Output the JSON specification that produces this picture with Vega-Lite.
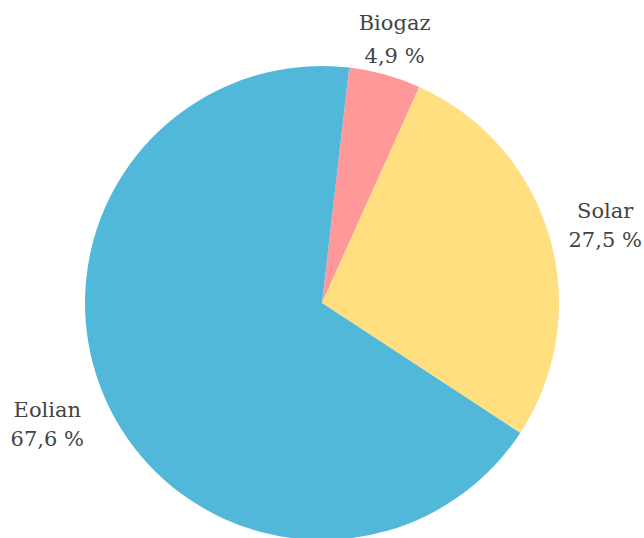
{
  "$schema": "https://vega.github.io/schema/vega-lite/v6.json",
  "width": 644,
  "height": 470,
  "autosize": "none",
  "padding": {"left": 0, "right": 0, "top": 68, "bottom": 0},
  "background": "white",
  "view": {"stroke": null},
  "data": {"values": [
    {"cat": "Biogaz", "value": 4.9, "ord": 1, "label": "Biogaz\n4,9 %"},
    {"cat": "Solar", "value": 27.5, "ord": 2, "label": "Solar\n27,5 %"},
    {"cat": "Eolian", "value": 67.6, "ord": 3, "label": "Eolian\n67,6 %"}
  ]},
  "encoding": {
    "theta": {"field": "value", "type": "quantitative", "stack": true, "scale": {"range": [0.1152, 6.3984]}},
    "order": {"field": "ord", "type": "quantitative"}
  },
  "layer": [
    {
      "mark": {"type": "arc", "outerRadius": 237},
      "encoding": {
        "color": {"field": "cat", "type": "nominal", "legend": null,
          "scale": {"domain": ["Biogaz", "Solar", "Eolian"], "range": ["#FF9999", "#FFDF80", "#52B8DA"]}}
      }
    },
    {
      "mark": {"type": "text", "radius": 273, "dy": -16, "align": "center", "baseline": "middle", "font": "DejaVu Serif", "fontSize": 21, "lineHeight": 33, "lineBreak": "\n", "fill": "#444444"},
      "encoding": {
        "detail": {"field": "cat", "type": "nominal"},
        "text": {"condition": {"test": "datum.cat === 'Biogaz'", "field": "label"}, "value": ""}
      }
    },
    {
      "mark": {"type": "text", "radius": 295, "dy": -8, "align": "center", "baseline": "middle", "font": "DejaVu Serif", "fontSize": 21, "lineHeight": 29, "lineBreak": "\n", "fill": "#444444"},
      "encoding": {
        "detail": {"field": "cat", "type": "nominal"},
        "text": {"condition": {"test": "datum.cat === 'Solar'", "field": "label"}, "value": ""}
      }
    },
    {
      "mark": {"type": "text", "radius": 300, "dx": -3, "dy": -19, "align": "center", "baseline": "middle", "font": "DejaVu Serif", "fontSize": 21, "lineHeight": 29, "lineBreak": "\n", "fill": "#444444"},
      "encoding": {
        "detail": {"field": "cat", "type": "nominal"},
        "text": {"condition": {"test": "datum.cat === 'Eolian'", "field": "label"}, "value": ""}
      }
    }
  ]
}
